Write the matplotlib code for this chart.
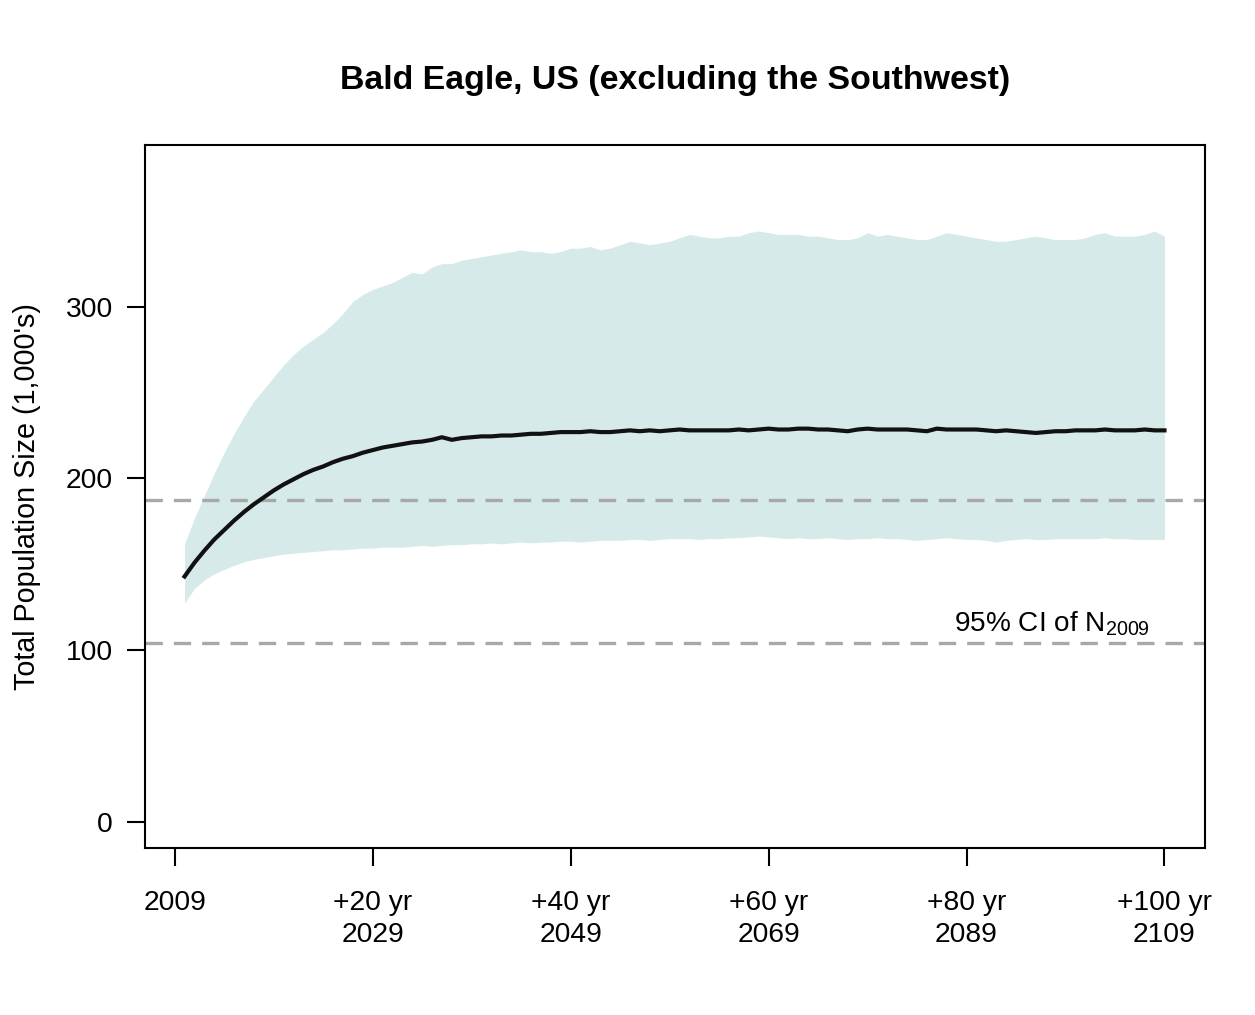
import numpy as np
import matplotlib.pyplot as plt

plt.rcParams['font.family'] = ['Liberation Sans', 'DejaVu Sans']

years = np.arange(2010, 2110)

# mean projected population (1,000's)
mean_pop = [143, 151, 158, 164.5, 170, 175.5, 180.5, 185, 189, 193,
            196.5, 199.5, 202.5, 205, 207, 209.5, 211.5, 213, 215, 216.5,
            218, 219, 220, 221, 221.5, 222.5, 224, 222.5, 223.5, 224,
            224.5, 224.5, 225, 225, 225.5, 226, 226, 226.5, 227, 227,
            227, 227.5, 227, 227, 227.5, 228, 227.5, 228, 227.5, 228,
            228.5, 228, 228, 228, 228, 228, 228.5, 228, 228.5, 229,
            228.5, 228.5, 229, 229, 228.5, 228.5, 228, 227.5, 228.5, 229,
            228.5, 228.5, 228.5, 228.5, 228, 227.5, 229, 228.5, 228.5, 228.5,
            228.5, 228, 227.5, 228, 227.5, 227, 226.5, 227, 227.5, 227.5,
            228, 228, 228, 228.5, 228, 228, 228, 228.5, 228, 228]

upper = [162, 177, 190, 203, 215, 226, 236, 245, 252, 259,
         266, 272, 277, 281, 285, 290, 296, 303, 307, 310,
         312, 314, 317, 320, 319, 323, 325, 325, 327, 328,
         329, 330, 331, 332, 333, 332, 332, 331, 332, 334,
         334, 335, 333, 334, 336, 338, 337, 336, 337, 338,
         340, 342, 341, 340, 340, 341, 341, 343, 344, 343,
         342, 342, 342, 341, 341, 340, 339, 339, 340, 343,
         341, 342, 341, 340, 339, 339, 341, 343, 342, 341,
         340, 339, 338, 338, 339, 340, 341, 340, 339, 339,
         339, 340, 342, 343, 341, 341, 341, 342, 344, 341]

lower = [127.5, 136, 141, 144.5, 147, 149.5, 151.5, 153, 154, 155,
         156, 156.5, 157, 157.5, 158, 158.5, 158.5, 159, 159.5, 159.5,
         160, 160, 160, 160.5, 161, 160.5, 161, 161.5, 161.5, 162,
         162, 162.5, 162, 162.5, 163, 162.5, 163, 163, 163.5, 163.5,
         163, 163.5, 164, 164, 164, 164.5, 164.5, 164, 164.5, 165,
         165, 165, 164.5, 165, 165, 165.5, 165.5, 166, 166.5, 166,
         165.5, 165, 165.5, 165, 165, 165.5, 165, 164.5, 165, 165,
         165.5, 165, 165, 164.5, 164, 164.5, 165, 165.5, 165, 164.5,
         164.5, 164, 163, 164, 164.5, 165, 164.5, 164.5, 165, 165,
         165, 165, 165, 165.5, 165, 165, 164.5, 164.5, 164.5, 164.5]

ci_n2009 = [104.5, 187.5]

xtick_pos = [2009, 2029, 2049, 2069, 2089, 2109]
xtick_labels = ['2009', '+20 yr\n2029', '+40 yr\n2049', '+60 yr\n2069',
                '+80 yr\n2089', '+100 yr\n2109']
ytick_pos = [0, 100, 200, 300]

fig = plt.figure(figsize=(12.55, 10.15), dpi=100)
ax = fig.add_axes([0.1155, 0.1645, 0.8447, 0.6926])

ax.fill_between(years, lower, upper, color='#d6eaea', lw=0)
for v in ci_n2009:
    ax.axhline(v, color='#a8a8a8', lw=2.4, linestyle=(0, (5.2, 3.3)))
ax.plot(years, mean_pop, color='#111111', lw=3.0)

ax.text(2107.5, 111, '95% CI of N$_{\\mathregular{2009}}$', ha='right',
        va='baseline', fontsize=20.2)

ax.set_xlim(2006, 2113.1)
ax.set_ylim(-15, 394)
ax.set_xticks(xtick_pos)
ax.set_xticklabels(xtick_labels, linespacing=1.32)
ax.set_yticks(ytick_pos)
ax.tick_params(axis='both', labelsize=20.3, length=13, width=1.5)
ax.tick_params(axis='y', pad=10)
ax.tick_params(axis='x', pad=17)
for s in ax.spines.values():
    s.set_linewidth(1.5)

ax.set_title('Bald Eagle, US (excluding the Southwest)', fontsize=24.4,
             fontweight='bold', pad=40)
fig.text(27 / 1255, 1 - 497 / 1015, "Total Population Size (1,000's)",
         rotation=90, ha='center', va='center', fontsize=20.7)

fig.savefig('out.png', dpi=100)
